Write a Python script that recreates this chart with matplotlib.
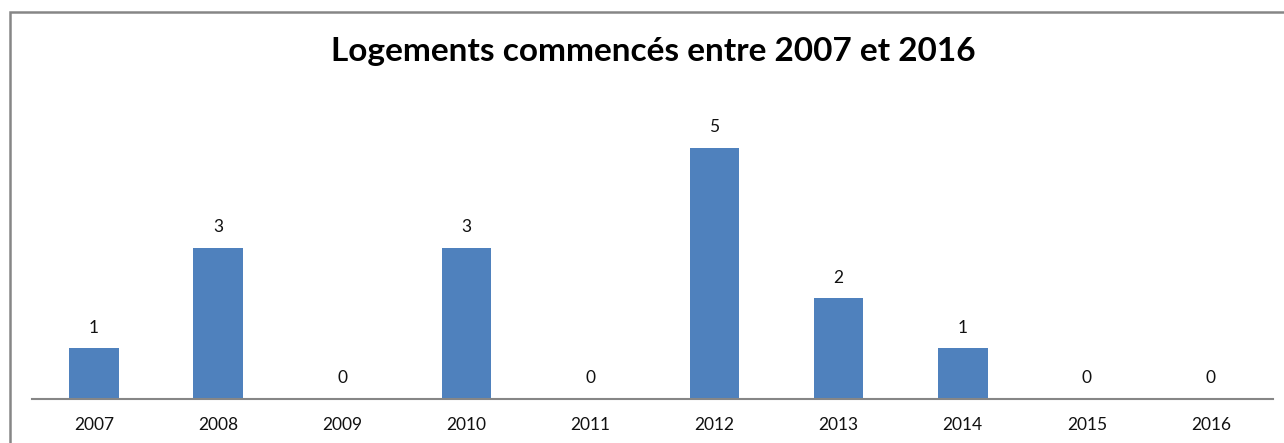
import matplotlib
matplotlib.use("Agg")
import matplotlib.pyplot as plt
from matplotlib.patches import Rectangle

years = ["2007", "2008", "2009", "2010", "2011", "2012", "2013", "2014", "2015", "2016"]
logements = [1, 3, 0, 3, 0, 5, 2, 1, 0, 0]
title = "Logements commencés entre 2007 et 2016"

W, H = 1284, 443
fig = plt.figure(figsize=(W / 100, H / 100), dpi=100)
fig.patch.set_facecolor("white")

# chart frame (runs off the right and bottom edges)
fig.patches.append(Rectangle((10 / W, -0.1), 1.2, 1 - 12 / H + 0.1,
                             transform=fig.transFigure, fill=False,
                             edgecolor="#868686", linewidth=1.8))

ax_left, ax_right = 32 / W, 1273 / W
ax_bottom, ax_top = (H - 398.5) / H, (H - 97.5) / H
ax = fig.add_axes([ax_left, ax_bottom, ax_right - ax_left, ax_top - ax_bottom])

x = range(len(years))
ax.bar(x, logements, width=0.4, color="#4F81BD")
for xi, v in zip(x, logements):
    ax.annotate(str(v), (xi, v), xytext=(0, 9), textcoords="offset points",
                ha="center", va="bottom", fontsize=12.5, family="Lato", color="#111111")

ax.set_xlim(-0.5, len(years) - 0.5)
ax.set_ylim(0, 6)
ax.set_xticks(list(x))
ax.set_xticklabels(years, fontsize=12.5, family="Lato", color="#111111")
ax.tick_params(axis="x", length=0, pad=13)
ax.set_yticks([])
for s in ("top", "left", "right"):
    ax.spines[s].set_visible(False)
ax.spines["bottom"].set_color("#868686")
ax.spines["bottom"].set_linewidth(1.5)
ax.patch.set_alpha(0)

fig.text(653 / W, 1 - 52 / H, title, ha="center", va="center",
         fontsize=24, fontweight="bold", family="Lato", color="black")

fig.savefig("out.png", dpi=100)
